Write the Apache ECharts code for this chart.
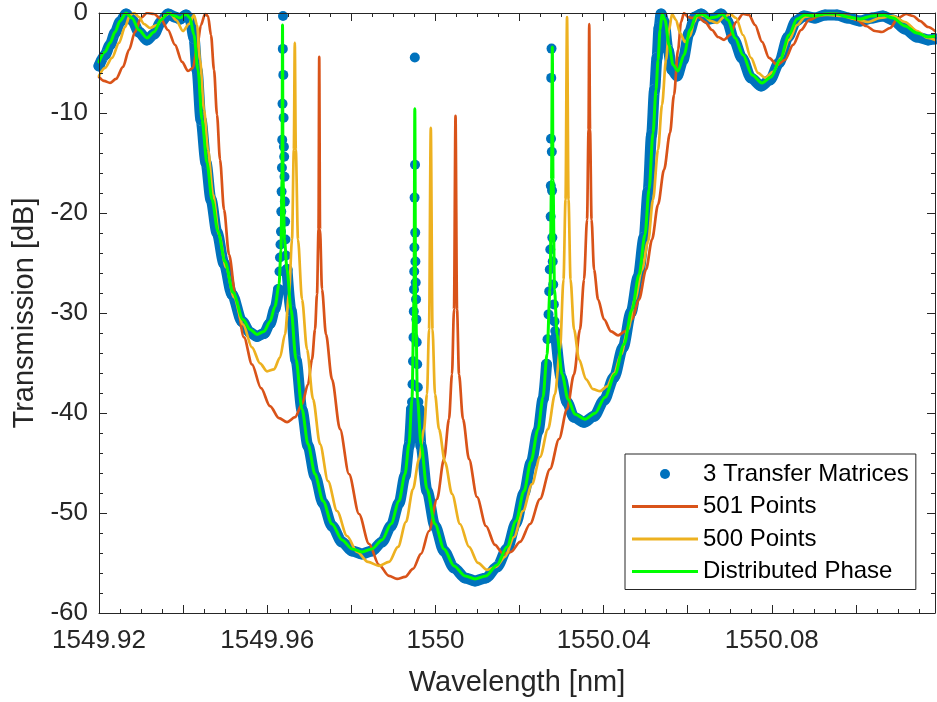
<!DOCTYPE html>
<html><head><meta charset="utf-8">
<script src="https://cdn.jsdelivr.net/npm/echarts@6/dist/echarts.min.js"></script>
<style>html,body{margin:0;padding:0;background:#fff}#c{width:937px;height:702px}</style>
</head><body><div id="c"></div>
<script>
// ---------- axis ranges & tick labels ----------
const xMin = 1549.92, xMax = 1550.1188;
const yMin = -60, yMax = 0;
const xTickLabels = ['1549.92', '1549.96', '1550', '1550.04', '1550.08'];
const yTickLabels = ['-60', '-50', '-40', '-30', '-20', '-10', '0'];
const seriesNames = ['3 Transfer Matrices', '501 Points', '500 Points', 'Distributed Phase'];

// ---------- 3 Transfer Matrices (sample band, null = gap at a resonance) ----------
const wlTM = [
1549.92000,1549.92143,1549.92262,1549.92380,1549.92499,1549.92642,1549.92785,1549.92951,1549.93141,1549.93308,
1549.93474,1549.93641,1549.93807,1549.93926,1549.94069,1549.94164,1549.94259,1549.94330,1549.94425,1549.94544,
1549.94663,1549.94806,1549.94973,1549.95163,1549.95401,1549.95591,1549.95757,1549.95924,1549.96067,1549.96185,
1549.96269,
1549.96280,
1549.96471,1549.96566,1549.96685,1549.96828,1549.96970,1549.97137,1549.97327,1549.97541,1549.97779,1549.98017,
1549.98254,1549.98492,1549.98730,1549.98944,1549.99134,1549.99277,1549.99372,1549.99432,
1549.99510,
1549.99610,1549.99657,1549.99800,1549.99990,1550.00204,1550.00442,1550.00704,1550.00942,1550.01203,1550.01465,
1550.01703,1550.01917,1550.02107,1550.02273,1550.02440,1550.02559,1550.02642,
1550.02760,
1550.02868,1550.02987,1550.03130,1550.03296,1550.03534,1550.03772,1550.04010,1550.04248,1550.04462,1550.04651,
1550.04818,1550.04961,1550.05057,1550.05140,1550.05211,1550.05270,1550.05318,1550.05365,1550.05437,1550.05532,
1550.05627,1550.05746,1550.05888,1550.06031,1550.06174,1550.06316,1550.06483,1550.06649,1550.06792,1550.06935,
1550.07101,1550.07291,1550.07505,1550.07743,1550.07957,1550.08171,1550.08385,1550.08576,1550.08765,1550.09027,
1550.09265,1550.09550,1550.09812,1550.10097,1550.10381,1550.10643,1550.10881,1550.11167,1550.11452,1550.11714,
1550.11881];
const dbTM = [
-5.29,-4.19,-3.19,-2.00,-0.90,-0.10,-0.70,-1.90,-2.69,-2.10,
-0.90,-0.10,-0.40,-0.60,-0.20,-0.60,-2.50,-5.69,-10.68,-14.97,
-18.66,-21.96,-25.05,-28.14,-30.84,-31.94,-32.34,-32.04,-31.04,-29.54,
-27.64,
null,
-25.65,-29.74,-34.73,-39.72,-43.31,-46.31,-49.00,-51.30,-52.89,-53.79,
-54.09,-53.79,-52.89,-51.30,-49.00,-46.31,-43.31,-39.62,
null,
-39.62,-43.31,-47.80,-51.30,-53.79,-55.49,-56.49,-56.79,-56.49,-55.39,
-53.59,-51.00,-48.00,-45.01,-41.82,-38.62,-35.13,
null,
-32.44,-36.43,-38.92,-40.42,-40.92,-40.32,-38.72,-36.43,-33.43,-29.94,
-26.45,-22.46,-17.86,-12.18,-7.68,-4.49,-1.50,-0.10,-0.90,-3.69,
-5.69,-6.29,-4.69,-2.00,-0.40,-0.10,-0.60,-0.50,-0.10,-0.80,
-2.69,-4.49,-6.49,-7.29,-6.69,-4.99,-2.40,-0.80,-0.30,-0.50,
-0.20,-0.20,-0.50,-0.80,-0.50,-0.30,-0.70,-1.60,-2.40,-2.69,
-2.59];

// ---------- 3 Transfer Matrices: isolated samples on the three resonances ----------
const wlTMres = [
1549.96292,1549.96304,1549.96316,1549.96328,1549.96335,1549.96342,1549.96350,1549.96357,1549.96364,1549.96371,
1549.96376,1549.96383,1549.96390,1549.96397,1549.96404,1549.96411,1549.96419,1549.96426,1549.96435,1549.96447,
1549.99443,1549.99455,1549.99467,1549.99479,1549.99486,1549.99491,1549.99496,1549.99500,1549.99505,1549.99510,
1549.99515,1549.99520,1549.99524,1549.99531,1549.99539,1549.99546,1549.99555,1549.99567,1549.99581,1549.99595,
1550.02666,1550.02690,1550.02706,1550.02720,1550.02732,1550.02740,1550.02744,1550.02749,1550.02754,1550.02761,
1550.02768,1550.02773,1550.02780,1550.02790,1550.02801,1550.02816,1550.02832,1550.02850];
const dbTMres = [
-25.85,-24.45,-23.15,-21.86,-19.86,-17.86,-15.47,-12.67,-9.08,-3.59,
-0.30,-6.19,-10.48,-13.37,-14.37,-16.37,-18.86,-20.86,-22.65,-24.25,
-38.90,-37.13,-34.83,-32.44,-29.84,-27.64,-25.85,-23.45,-18.46,-4.45,
-15.17,-21.96,-24.85,-26.95,-28.64,-30.64,-32.93,-35.13,-37.43,-38.90,
-32.63,-30.14,-27.84,-25.65,-23.65,-20.36,-17.27,-12.57,-6.49,-3.56,
-13.87,-17.76,-22.46,-24.85,-27.15,-29.14,-30.84,-31.80];

// ---------- 501 Points ----------
const wl501 = [
1549.92000,1549.92119,1549.92262,1549.92404,1549.92571,1549.92713,1549.92856,1549.92999,1549.93141,1549.93308,
1549.93474,1549.93641,1549.93807,1549.93974,1549.94117,1549.94235,1549.94330,1549.94425,1549.94521,1549.94592,
1549.94663,1549.94735,1549.94806,1549.94878,1549.94973,1549.95092,1549.95258,1549.95448,1549.95638,1549.95853,
1549.96067,1549.96281,1549.96471,1549.96661,1549.96828,1549.96970,1549.97066,1549.97137,1549.97184,1549.97220,
1549.97237,1549.97256,1549.97303,1549.97398,1549.97541,1549.97731,1549.97945,1549.98183,1549.98421,1549.98659,
1549.98896,1549.99087,1549.99277,1549.99467,1549.99657,1549.99848,1550.00038,1550.00204,1550.00323,1550.00394,
1550.00442,1550.00478,1550.00514,1550.00561,1550.00656,1550.00799,1550.00989,1550.01203,1550.01417,1550.01607,
1550.01798,1550.02012,1550.02250,1550.02487,1550.02725,1550.02939,1550.03130,1550.03296,1550.03439,1550.03534,
1550.03606,1550.03641,1550.03658,1550.03677,1550.03713,1550.03772,1550.03868,1550.04010,1550.04177,1550.04344,
1550.04510,1550.04675,1550.04842,1550.05009,1550.05151,1550.05294,1550.05437,1550.05579,1550.05674,1550.05769,
1550.05841,1550.05912,1550.06007,1550.06102,1550.06245,1550.06411,1550.06578,1550.06721,1550.06863,1550.07006,
1550.07149,1550.07315,1550.07458,1550.07600,1550.07767,1550.07934,1550.08124,1550.08314,1550.08504,1550.08695,
1550.08884,1550.09122,1550.09360,1550.09598,1550.09812,1550.10026,1550.10240,1550.10454,1550.10621,1550.10811,
1550.11001,1550.11192,1550.11358,1550.11525,1550.11714,1550.11881];
const db501 = [
-6.39,-6.79,-6.99,-6.59,-5.39,-3.69,-1.90,-0.50,0,-0.10,
-0.60,-1.70,-3.19,-4.89,-5.79,-5.49,-3.49,-1.20,-0.10,-0.30,
-2.20,-5.69,-10.18,-14.67,-19.66,-24.15,-28.64,-32.44,-35.13,-37.52,
-39.32,-40.52,-40.92,-40.42,-39.12,-37.13,-34.63,-31.64,-28.14,-21.66,
-4.39,-21.66,-27.64,-32.14,-36.63,-41.62,-46.11,-50.10,-53.09,-55.19,
-56.29,-56.59,-56.39,-55.59,-54.09,-51.80,-48.60,-44.61,-40.62,-36.13,
-29.64,-10.28,-29.64,-36.13,-40.62,-44.61,-48.40,-51.30,-53.19,-54.09,
-53.89,-52.89,-51.10,-48.60,-45.61,-42.61,-39.62,-36.13,-31.64,-26.65,
-20.66,-11.68,-1.10,-11.68,-20.66,-25.65,-28.64,-30.64,-31.84,-32.24,
-31.84,-30.64,-28.64,-25.65,-22.65,-19.16,-15.67,-11.98,-8.18,-3.69,
-0.90,0,-0.40,-0.50,-0.40,-0.90,-1.70,-2.40,-2.69,-2.20,
-0.90,-0.10,-0.20,-1.20,-2.89,-4.49,-5.19,-4.69,-3.19,-1.70,
-0.70,-0.30,-0.10,-0.10,-0.30,-0.70,-1.30,-1.80,-1.90,-1.50,
-0.50,-0.10,-0.30,-0.80,-1.40,-1.80];

// ---------- 500 Points ----------
const wl500 = [
1549.92000,1549.92143,1549.92309,1549.92476,1549.92618,1549.92737,1549.92832,1549.92951,1549.93070,1549.93213,
1549.93379,1549.93546,1549.93688,1549.93831,1549.93998,1549.94140,1549.94259,1549.94330,1549.94402,1549.94497,
1549.94592,1549.94711,1549.94854,1549.95021,1549.95211,1549.95424,1549.95638,1549.95829,1549.95995,1549.96162,
1549.96305,1549.96423,1549.96518,1549.96590,1549.96633,1549.96656,1549.96680,1549.96732,1549.96828,1549.96947,
1549.97090,1549.97256,1549.97446,1549.97660,1549.97898,1549.98136,1549.98397,1549.98659,1549.98896,1549.99110,
1549.99300,1549.99467,1549.99610,1549.99729,1549.99800,1549.99848,1549.99890,1549.99931,1549.99990,1550.00086,
1550.00228,1550.00395,1550.00585,1550.00799,1550.01013,1550.01227,1550.01441,1550.01655,1550.01869,1550.02083,
1550.02297,1550.02487,1550.02677,1550.02844,1550.02963,1550.03046,1550.03094,1550.03130,1550.03165,1550.03213,
1550.03296,1550.03415,1550.03582,1550.03748,1550.03915,1550.04081,1550.04248,1550.04414,1550.04581,1550.04747,
1550.04914,1550.05057,1550.05175,1550.05294,1550.05389,1550.05484,1550.05555,1550.05627,1550.05722,1550.05817,
1550.05935,1550.06055,1550.06150,1550.06245,1550.06388,1550.06554,1550.06697,1550.06863,1550.07006,1550.07149,
1550.07315,1550.07505,1550.07672,1550.07838,1550.08029,1550.08219,1550.08409,1550.08599,1550.08789,1550.09027,
1550.09336,1550.09669,1550.09978,1550.10288,1550.10573,1550.10881,1550.11167,1550.11452,1550.11714,1550.11881];
const db500 = [
-6.29,-5.49,-4.49,-2.99,-1.40,-0.20,0,-0.40,-1.10,-1.50,
-1.20,-0.30,0,-0.70,-1.80,-1.10,-0.20,-1.20,-4.69,-9.68,
-13.67,-18.16,-22.16,-25.45,-28.44,-31.14,-33.43,-35.03,-35.83,-35.63,
-34.43,-32.14,-28.14,-22.65,-13.67,-2.99,-13.67,-22.65,-28.64,-33.63,
-38.62,-43.11,-46.81,-49.80,-52.30,-53.89,-54.89,-55.29,-54.89,-53.39,
-50.90,-47.60,-44.61,-41.62,-38.12,-31.64,-11.48,-31.64,-38.12,-41.62,
-44.91,-48.10,-51.10,-53.39,-54.99,-55.69,-55.39,-54.39,-52.40,-49.80,
-47.11,-44.41,-41.62,-38.12,-33.63,-26.65,-18.66,-0.40,-18.66,-26.65,
-31.64,-34.63,-36.63,-37.62,-37.82,-37.33,-36.03,-34.13,-31.64,-28.64,
-25.65,-22.85,-18.66,-13.67,-9.18,-4.69,-1.70,-0.10,-0.70,-2.00,
-2.89,-2.30,-0.90,-0.10,-0.30,-0.80,-1.00,-0.40,-0.10,-0.50,
-2.20,-4.49,-5.99,-6.49,-5.89,-4.49,-2.69,-1.20,-0.40,-0.20,
-0.20,-0.30,-0.60,-0.90,-0.50,-0.30,-0.90,-1.80,-2.50,-2.69];

// ---------- Distributed Phase ----------
const wlDP = [
1549.92000,1549.92143,1549.92262,1549.92380,1549.92499,1549.92642,1549.92785,1549.92951,1549.93141,1549.93308,
1549.93474,1549.93641,1549.93807,1549.93926,1549.94069,1549.94164,1549.94259,1549.94354,1549.94449,1549.94568,
1549.94687,1549.94830,1549.94996,1549.95187,1549.95424,1549.95591,1549.95757,1549.95924,1549.96067,1549.96185,
1549.96281,1549.96328,1549.96352,1549.96364,1549.96376,1549.96411,1549.96471,1549.96566,1549.96685,1549.96828,
1549.96970,1549.97137,1549.97327,1549.97541,1549.97779,1549.98017,1549.98254,1549.98492,1549.98730,1549.98944,
1549.99134,1549.99277,1549.99372,1549.99443,1549.99491,1549.99510,1549.99529,1549.99574,1549.99657,1549.99800,
1549.99990,1550.00204,1550.00442,1550.00704,1550.00942,1550.01203,1550.01465,1550.01703,1550.01917,1550.02107,
1550.02273,1550.02440,1550.02559,1550.02654,1550.02725,1550.02761,1550.02780,1550.02797,1550.02832,1550.02892,
1550.03011,1550.03154,1550.03320,1550.03558,1550.03796,1550.04033,1550.04271,1550.04485,1550.04675,1550.04842,
1550.04984,1550.05080,1550.05175,1550.05246,1550.05294,1550.05341,1550.05389,1550.05460,1550.05555,1550.05650,
1550.05769,1550.05912,1550.06055,1550.06197,1550.06340,1550.06506,1550.06673,1550.06816,1550.06958,1550.07125,
1550.07315,1550.07529,1550.07767,1550.07981,1550.08195,1550.08409,1550.08599,1550.08789,1550.09027,1550.09265,
1550.09550,1550.09812,1550.10097,1550.10381,1550.10643,1550.10881,1550.11167,1550.11452,1550.11714,1550.11881];
const dbDP = [
-4.89,-3.89,-2.99,-1.90,-0.80,0,-0.50,-1.70,-2.50,-1.90,
-0.70,0,-0.30,-0.50,-0.10,-0.50,-2.20,-5.69,-10.68,-14.97,
-18.66,-21.86,-24.85,-27.94,-30.64,-31.64,-32.14,-31.84,-30.84,-29.34,
-27.15,-23.65,-16.67,-1.20,-16.67,-22.65,-25.65,-29.64,-34.63,-39.62,
-43.11,-46.11,-48.80,-51.10,-52.69,-53.59,-53.89,-53.59,-52.69,-51.10,
-48.80,-46.11,-43.11,-38.62,-28.64,-9.58,-28.64,-38.62,-43.11,-47.60,
-51.10,-53.59,-55.29,-56.29,-56.59,-56.29,-55.19,-53.39,-50.80,-47.80,
-44.81,-41.62,-38.42,-34.13,-27.64,-16.67,-3.39,-16.67,-27.64,-32.14,
-36.13,-38.62,-40.12,-40.62,-40.02,-38.42,-36.13,-33.13,-29.64,-26.15,
-22.16,-17.66,-11.98,-7.68,-4.69,-1.70,-0.10,-0.70,-3.19,-5.19,
-5.79,-4.19,-1.70,-0.30,-0.10,-0.50,-0.40,-0.10,-0.70,-2.50,
-4.19,-6.19,-6.99,-6.39,-4.69,-2.20,-0.60,-0.20,-0.30,-0.10,
-0.10,-0.40,-0.60,-0.30,-0.20,-0.50,-1.30,-2.00,-2.40,-2.30];

// ---------- styling ----------
const FONT = '"Liberation Sans", Arial, Helvetica, sans-serif';
const AX = '#262626';
const C_TM = '#0072BD', C_501 = '#D95319', C_500 = '#EDB120', C_DP = '#00FF00';
const LINE_ICON = 'path://M0,0H66V3H0Z';

const pairs = (xs, ys) => xs.map((x, i) => [x, ys[i] === null ? '-' : ys[i]]);

function xLab(v) {
  const s = String(Math.round(v * 100) / 100);
  return xTickLabels.includes(s) ? s : '';
}
function yLab(v) {
  const s = String(Math.round(v));
  return yTickLabels.includes(s) ? s : '';
}

function xAxisDef(pos, interval, len, withLine, withLabel) {
  const a = {
    type: 'value', position: pos, min: xMin, max: xMax, interval: interval,
    axisLine: { show: withLine, onZero: false, lineStyle: { color: AX, width: 1 } },
    axisTick: { show: true, inside: true, length: len, lineStyle: { color: AX, width: 1 } },
    axisLabel: { show: withLabel },
    splitLine: { show: false }, z: 20
  };
  if (withLabel) {
    a.axisLabel = { show: true, formatter: xLab, fontSize: 26, color: AX, fontFamily: FONT,
      margin: 15, showMaxLabel: false, showMinLabel: true };
    a.name = 'Wavelength [nm]';
    a.nameLocation = 'middle';
    a.nameGap = 55;
    a.nameTextStyle = { fontSize: 29, color: AX, fontFamily: FONT };
  }
  return a;
}
function yAxisDef(pos, withLabel) {
  const a = {
    type: 'value', position: pos, min: yMin, max: yMax, interval: 10,
    axisLine: { show: true, onZero: false, lineStyle: { color: AX, width: 1 } },
    axisTick: { show: true, inside: true, length: 8, lineStyle: { color: AX, width: 1 } },
    minorTick: { show: true, splitNumber: 5, length: 4, lineStyle: { color: AX, width: 1 } },
    axisLabel: { show: withLabel },
    splitLine: { show: false }, minorSplitLine: { show: false }, z: 20
  };
  if (withLabel) {
    a.axisLabel = { show: true, formatter: yLab, fontSize: 26, color: AX, fontFamily: FONT, margin: 11 };
    a.name = 'Transmission [dB]';
    a.nameLocation = 'middle';
    a.nameGap = 52;
    a.nameTextStyle = { fontSize: 29, color: AX, fontFamily: FONT };
  }
  return a;
}

const lineSeries = (name, xs, ys, color, width, z) => ({
  name: name, type: 'line', data: pairs(xs, ys), xAxisIndex: 0, yAxisIndex: 0, z: z,
  showSymbol: false, symbol: 'none', smooth: 0.3, smoothMonotone: 'x',
  lineStyle: { color: color, width: width, cap: 'round', join: 'round' },
  itemStyle: { color: color }, silent: true, animation: false
});

const chart = echarts.init(document.getElementById('c'), null, { renderer: 'canvas' });
chart.setOption({
  animation: false,
  backgroundColor: '#ffffff',
  textStyle: { fontFamily: FONT },
  grid: { left: 99, right: 2, top: 13, bottom: 88, containLabel: false },
  xAxis: [
    xAxisDef('bottom', 0.02, 8, true, true),
    xAxisDef('bottom', 0.005, 4, false, false),
    xAxisDef('top', 0.02, 8, true, false),
    xAxisDef('top', 0.005, 4, false, false)
  ],
  yAxis: [yAxisDef('left', true), yAxisDef('right', false)],
  legend: {
    orient: 'vertical', left: 625, top: 454, z: 30,
    padding: [8, 7, 6, 7], itemGap: 8.5, itemWidth: 66, itemHeight: 10,
    borderColor: AX, borderWidth: 1, backgroundColor: '#ffffff',
    selectedMode: false,
    textStyle: { fontSize: 24, color: '#000', fontFamily: FONT, lineHeight: 24 },
    data: [
      { name: seriesNames[0], icon: 'circle' },
      { name: seriesNames[1], icon: LINE_ICON },
      { name: seriesNames[2], icon: LINE_ICON },
      { name: seriesNames[3], icon: LINE_ICON }
    ]
  },
  series: [
    {
      name: seriesNames[0], type: 'line', data: pairs(wlTM, dbTM), xAxisIndex: 0, yAxisIndex: 0, z: 2,
      symbol: 'circle', symbolSize: 11, showSymbol: true, showAllSymbol: true, connectNulls: false,
      smooth: 0.3, smoothMonotone: 'x',
      lineStyle: { color: C_TM, width: 11, cap: 'round', join: 'round' },
      itemStyle: { color: C_TM }, clip: false, silent: true
    },
    {
      name: seriesNames[0], type: 'scatter', data: pairs(wlTMres, dbTMres), xAxisIndex: 0, yAxisIndex: 0, z: 3,
      symbol: 'circle', symbolSize: 10, itemStyle: { color: C_TM, opacity: 1 }, clip: false, silent: true
    },
    lineSeries(seriesNames[1], wl501, db501, C_501, 2.7, 4),
    lineSeries(seriesNames[2], wl500, db500, C_500, 2.7, 5),
    lineSeries(seriesNames[3], wlDP, dbDP, C_DP, 3, 6)
  ]
});
</script></body></html>
